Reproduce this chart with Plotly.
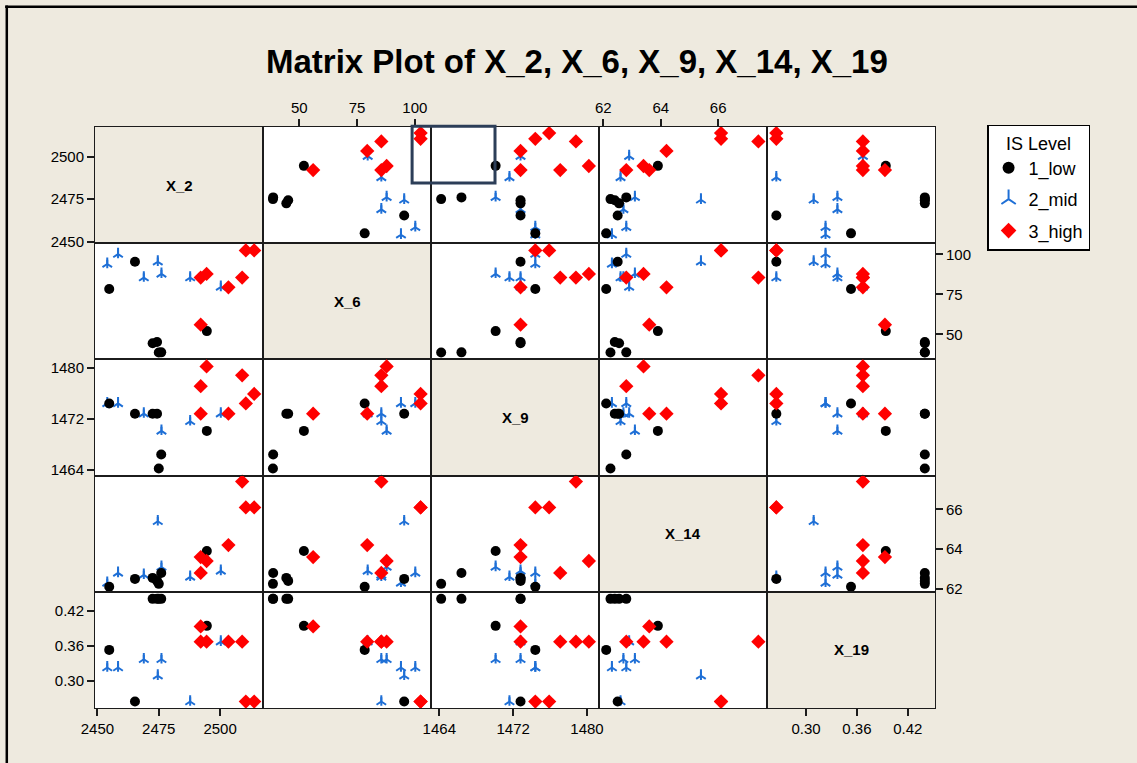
import plotly.graph_objects as go

# ---- data -------------------------------------------------------------
var_names = ["X_2", "X_6", "X_9", "X_14", "X_19"]

is_level = ["1_low"] * 7 + ["2_mid"] * 7 + ["3_high"] * 7

x_2 = [2465.3, 2454.8, 2494.6, 2472.5, 2474.3, 2475.0, 2476.0,
       2454.0, 2458.4, 2468.9, 2476.1, 2474.6, 2487.8, 2500.3,
       2510.5, 2513.9, 2492.1, 2494.5, 2509.0, 2503.4, 2492.1]
x_6 = [95.4, 78.3, 52.0, 44.4, 45.2, 38.6, 38.7,
       94.0, 100.2, 85.5, 87.8, 95.4, 85.5, 79.6,
       102.5, 102.5, 85.5, 87.8, 85.5, 79.4, 56.0]
x_9 = [1472.8, 1474.4, 1470.1, 1472.8, 1472.8, 1464.2, 1466.4,
       1474.4, 1474.4, 1472.8, 1470.1, None, 1471.6, 1472.8,
       1474.4, 1475.9, 1477.1, 1480.2, 1478.8, 1472.8, 1472.8]
x_14 = [62.5, 62.1, 63.9, 62.55, 62.4, 62.25, 62.8,
        62.3, 62.8, 62.7, 63.1, 65.4, 62.6, 62.9,
        66.1, 66.1, 62.8, 63.4, 67.4, 64.2, 63.6]
x_19 = [0.265, 0.353, 0.394, 0.44, 0.44, 0.44, 0.44,
        0.323, 0.323, 0.337, 0.337, 0.309, 0.265, 0.367,
        0.265, 0.265, 0.367, 0.367, 0.367, 0.367, 0.393]

tick_values = [[2450, 2475, 2500], [50, 75, 100], [1464, 1472, 1480],
               [62, 64, 66], [0.30, 0.36, 0.42]]

columns = [x_2, x_6, x_9, x_14, x_19]
axis_ranges = [[2449, 2517.5], [34.3, 107.0], [1463.1, 1481.3],
               [61.85, 67.7], [0.254, 0.452]]
tick_formats = ["d", "d", "d", "d", ".2f"]

# ---- styling ----------------------------------------------------------
BG = "#EEEADF"
LINE = "#1c1c1c"
BLUE = "#1E6FD6"
FONT = "Liberation Sans, Arial, sans-serif"

group_style = {
    "1_low": dict(symbol="circle", size=10, color="black",
                  line=dict(width=0)),
    "2_mid": dict(symbol="y-up-open", size=8, color=BLUE,
                  line=dict(width=2, color=BLUE)),
    "3_high": dict(symbol="diamond", size=11, color="#FF0000",
                   line=dict(width=0)),
}
draw_order = ["2_mid", "1_low", "3_high"]
legend_rank = {"1_low": 1, "2_mid": 2, "3_high": 3}

n = len(var_names)
fig = go.Figure()


def axis_id(r, c):
    k = r * n + c + 1
    return "" if k == 1 else str(k)


shapes = []
annotations = []
legend_done = set()

for r in range(n):
    for c in range(n):
        aid = axis_id(r, c)
        if r == c:
            shapes.append(dict(type="rect", xref=f"x{aid} domain",
                               yref=f"y{aid} domain", x0=0, x1=1, y0=0, y1=1,
                               fillcolor=BG, line=dict(width=0), layer="below"))
            annotations.append(dict(text=f"<b>{var_names[r]}</b>",
                                    xref=f"x{aid} domain", yref=f"y{aid} domain",
                                    x=0.5, y=0.5, showarrow=False,
                                    font=dict(family=FONT, size=15, color="black")))
            # empty trace so the subplot axes exist
            fig.add_trace(go.Scatter(x=[], y=[], xaxis=f"x{aid}", yaxis=f"y{aid}",
                                     showlegend=False, hoverinfo="skip"))
            continue
        for g in draw_order:
            idx = [i for i, lv in enumerate(is_level) if lv == g]
            show = g not in legend_done
            legend_done.add(g)
            st = group_style[g]
            xs = [columns[c][i] for i in idx]
            ys = [columns[r][i] for i in idx]
            fig.add_trace(go.Scatter(
                x=xs, y=ys, mode="markers", name=g,
                legendrank=legend_rank[g], legendgroup=g, showlegend=show,
                marker=st, xaxis=f"x{aid}", yaxis=f"y{aid}", cliponaxis=False))
            if g == "2_mid":
                # lower stem of the cross
                fig.add_trace(go.Scatter(
                    x=xs, y=ys, mode="markers", legendgroup=g, showlegend=False,
                    marker=dict(symbol="line-ns-open", size=6, color=BLUE,
                                line=dict(width=2, color=BLUE)),
                    xaxis=f"x{aid}", yaxis=f"y{aid}", hoverinfo="skip"))

layout = dict(
    width=1137, height=763,
    margin=dict(l=95, r=202, t=127, b=55),
    paper_bgcolor=BG, plot_bgcolor="white",
    showlegend=True,
    legend=dict(x=1.062, y=1.004, xanchor="left", yanchor="top",
                bgcolor="white", bordercolor="black", borderwidth=1.5,
                font=dict(family=FONT, size=18, color="black"),
                title=dict(text="IS Level", side="top center",
                           font=dict(family=FONT, size=18, color="black")),
                tracegroupgap=5, itemsizing="constant", entrywidth=95),
)

for r in range(n):
    for c in range(n):
        aid = axis_id(r, c)
        x_dom = [c / n, (c + 1) / n]
        y_dom = [1 - (r + 1) / n, 1 - r / n]
        xa = dict(domain=x_dom, range=axis_ranges[c], anchor=f"y{aid}",
                  showgrid=False, zeroline=False, showline=True, mirror=True,
                  linecolor=LINE, linewidth=1, showticklabels=False, ticks="")
        ya = dict(domain=y_dom, range=axis_ranges[r], anchor=f"x{aid}",
                  showgrid=False, zeroline=False, showline=True, mirror=True,
                  linecolor=LINE, linewidth=1, showticklabels=False, ticks="")
        tick_common = dict(showticklabels=True, ticks="outside", ticklen=7,
                           tickwidth=1.5, tickcolor=LINE,
                           tickfont=dict(family=FONT, size=15, color="black"))
        if (r == n - 1 and c % 2 == 0) or (r == 0 and c % 2 == 1):
            xa.update(tick_common, tickvals=tick_values[c],
                      tickformat=tick_formats[c],
                      side="bottom" if r == n - 1 else "top")
        if (c == 0 and r % 2 == 0) or (c == n - 1 and r % 2 == 1):
            ya.update(tick_common, tickvals=tick_values[r],
                      tickformat=tick_formats[r],
                      side="left" if c == 0 else "right")
        layout[f"xaxis{aid}"] = xa
        layout[f"yaxis{aid}"] = ya

# selection frame (brush) straddling the X_6 / X_9 cells of the top row
shapes.append(dict(type="rect", xref="paper", yref="paper",
                   x0=0.3775, x1=0.4762, y0=0.9036, y1=1.0015,
                   line=dict(color="#2C3E58", width=3), layer="above"))

# outer frame of the graph window (left and top edges)
shapes.append(dict(type="line", xref="paper", yref="paper",
                   x0=-0.105, x1=-0.105, y0=-0.1, y1=1.209,
                   line=dict(color="black", width=2.5)))
shapes.append(dict(type="line", xref="paper", yref="paper",
                   x0=-0.107, x1=1.25, y0=1.207, y1=1.207,
                   line=dict(color="black", width=2.5)))

annotations.append(dict(
    text="<b>Matrix Plot of X_2, X_6, X_9, X_14, X_19</b>",
    xref="paper", yref="paper", x=0.574, y=1.112,
    xanchor="center", yanchor="middle", showarrow=False,
    font=dict(family=FONT, size=33, color="black")))

layout["shapes"] = shapes
layout["annotations"] = annotations
fig.update_layout(**layout)

fig.write_html("out.html")
